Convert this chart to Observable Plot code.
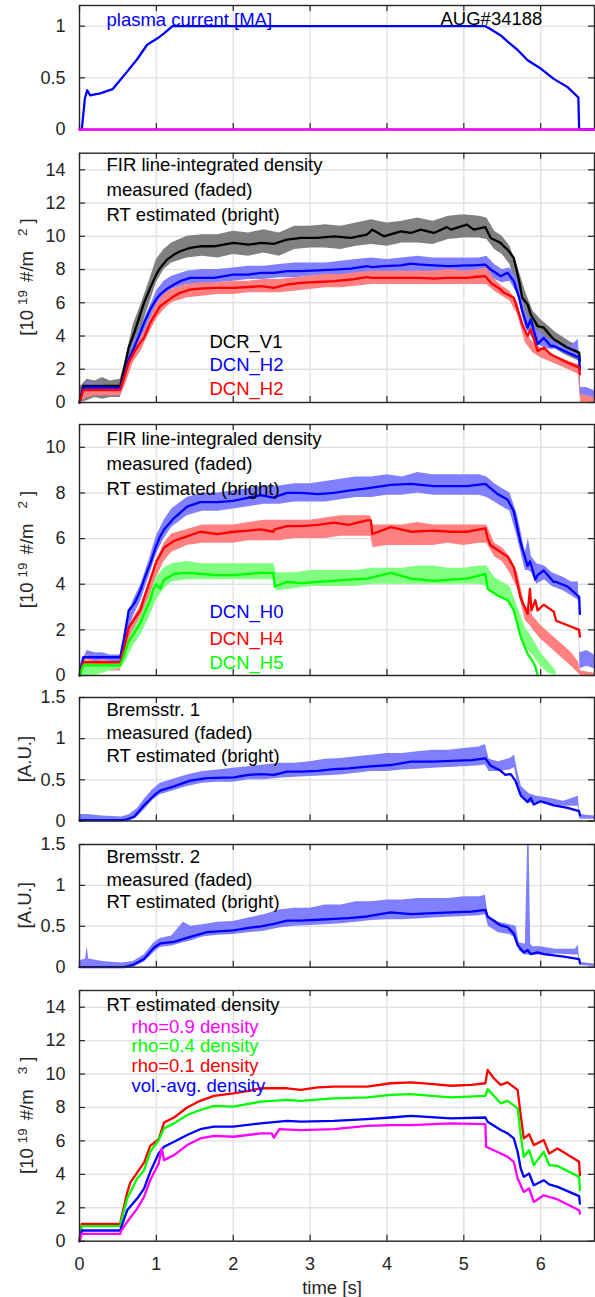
<!DOCTYPE html>
<html><head><meta charset="utf-8">
<script src="https://cdn.jsdelivr.net/npm/d3@7"></script>
<script src="https://cdn.jsdelivr.net/npm/@observablehq/plot@0.6"></script>
<style>
body{margin:0;background:#fff;}
#chart{position:relative;width:595px;height:1297px;overflow:hidden;}
#chart svg{position:absolute;left:0;}
</style></head><body><div id="chart"></div>
<script>
// ---------------- DATA ----------------
const xTicks = [0, 1, 2, 3, 4, 5, 6];
const ticksIp = [0, 0.5, 1];
const ticksFir1 = [0, 2, 4, 6, 8, 10, 12, 14];
const ticksFir2 = [0, 2, 4, 6, 8, 10];
const ticksBrems = [0, 0.5, 1, 1.5];
const ticksDens = [0, 2, 4, 6, 8, 10, 12, 14];

// panel 1: plasma current [t, MA]
const plasmaCurrent = [[0,0],[0.03,0],[0.07,0.3],[0.1,0.38],[0.14,0.33],[0.2,0.34],[0.27,0.35],[0.43,0.39],[0.62,0.56],[0.75,0.68],[0.88,0.82],[1.01,0.88],[1.1,0.93],[1.21,1.0],[1.5,1.0],[2.0,1.0],[2.5,1.0],[3.0,1.0],[3.5,1.0],[4.0,1.0],[4.5,1.0],[5.0,1.0],[5.28,1.0],[5.35,0.97],[5.48,0.91],[5.57,0.85],[5.7,0.77],[5.83,0.67],[6.0,0.59],[6.17,0.49],[6.35,0.41],[6.49,0.31],[6.5,0],[6.7,0]];
const plasmaRef = [[0,0],[6.7,0]];

// panel 2: FIR line-integrated density, RT estimated [t, value]
const rtDCR_V1 = [[0,0],[0.05,1.0],[0.53,1.0],[0.58,2.0],[0.64,3.3],[0.72,4.3],[0.79,5.3],[0.84,6.0],[0.92,6.9],[1.01,7.8],[1.05,8.1],[1.14,8.6],[1.23,8.9],[1.31,9.1],[1.44,9.3],[1.57,9.4],[1.75,9.4],[2.0,9.6],[2.2,9.5],[2.36,9.6],[2.53,9.55],[2.7,9.8],[2.88,9.9],[3.1,9.9],[3.31,10.0],[3.53,9.9],[3.74,10.1],[3.81,10.4],[3.96,10.0],[4.18,10.3],[4.31,10.2],[4.44,10.4],[4.61,10.2],[4.78,10.55],[4.83,10.4],[5.04,10.7],[5.13,10.4],[5.28,10.55],[5.35,9.9],[5.48,9.6],[5.52,9.4],[5.57,9.2],[5.65,8.7],[5.72,7.3],[5.76,6.3],[5.83,5.9],[5.87,5.3],[5.96,4.6],[6.04,4.5],[6.13,4.0],[6.17,3.8],[6.35,3.3],[6.5,3.0],[6.51,2.5]];
const rtDCN_H2b = [[0,0],[0.05,0.9],[0.53,0.9],[0.58,1.6],[0.64,2.6],[0.72,3.4],[0.79,4.2],[0.84,4.8],[0.92,5.6],[1.01,6.3],[1.05,6.5],[1.14,6.85],[1.23,7.1],[1.31,7.3],[1.44,7.5],[1.57,7.5],[1.75,7.5],[2.0,7.7],[2.2,7.7],[2.36,7.8],[2.53,7.8],[2.7,7.9],[2.88,7.9],[3.1,7.95],[3.31,8.0],[3.53,8.05],[3.74,8.2],[3.81,8.15],[3.96,8.2],[4.18,8.25],[4.31,8.35],[4.44,8.3],[4.61,8.25],[4.78,8.2],[4.83,8.2],[5.04,8.25],[5.13,8.25],[5.28,8.3],[5.35,8.0],[5.48,7.6],[5.52,7.7],[5.57,7.8],[5.65,7.3],[5.72,6.3],[5.76,5.5],[5.83,4.5],[5.87,5.0],[5.96,3.5],[6.04,3.9],[6.13,3.4],[6.17,3.4],[6.35,3.0],[6.5,2.7],[6.51,2.0]];
const rtDCN_H2r = [[0,0],[0.05,0.75],[0.53,0.75],[0.58,1.5],[0.64,2.4],[0.72,3.1],[0.79,3.6],[0.84,3.9],[0.92,4.8],[1.01,5.5],[1.05,5.8],[1.14,6.1],[1.23,6.4],[1.31,6.6],[1.44,6.8],[1.57,6.85],[1.75,6.9],[2.0,6.9],[2.2,6.95],[2.36,7.0],[2.53,6.9],[2.7,7.1],[2.88,7.2],[3.1,7.25],[3.31,7.3],[3.53,7.4],[3.74,7.55],[3.81,7.5],[3.96,7.5],[4.18,7.5],[4.31,7.5],[4.44,7.5],[4.61,7.45],[4.78,7.5],[4.83,7.5],[5.04,7.5],[5.13,7.55],[5.28,7.6],[5.35,7.2],[5.48,6.8],[5.52,6.6],[5.57,6.5],[5.65,6.3],[5.72,5.3],[5.76,4.7],[5.83,4.0],[5.87,4.4],[5.96,3.1],[6.04,3.3],[6.13,2.9],[6.17,2.8],[6.35,2.4],[6.5,2.1],[6.51,1.7]];
// measured (faded) envelopes [t, low, high]
const msDCR_V1 = [[0,0,0.9],[0.1,0.1,1.4],[0.2,0.3,1.3],[0.3,0.2,1.5],[0.4,0.3,1.3],[0.53,0.3,1.4],[0.6,1.2,2.6],[0.7,3.2,4.7],[0.8,4.4,5.9],[0.9,5.8,7.2],[1.0,7.2,8.6],[1.1,8.0,9.2],[1.2,8.4,9.6],[1.4,8.7,10.0],[1.6,8.8,10.1],[1.8,8.7,10.1],[2.0,8.9,10.3],[2.2,8.8,10.2],[2.4,9.0,10.4],[2.6,8.8,10.2],[2.8,9.2,10.6],[3.0,9.3,10.6],[3.2,9.3,10.7],[3.4,9.2,10.6],[3.6,9.4,10.8],[3.8,9.5,11.0],[4.0,9.4,10.8],[4.2,9.6,10.9],[4.4,9.6,11.1],[4.6,9.5,10.9],[4.8,9.8,11.2],[5.0,9.9,11.3],[5.2,9.9,11.2],[5.3,9.8,11.1],[5.4,9.2,10.3],[5.5,8.9,10.0],[5.6,8.3,9.4],[5.7,6.6,8.2],[5.8,4.6,6.7],[5.9,4.3,5.5],[6.0,3.9,5.0],[6.1,3.5,4.6],[6.2,3.2,4.2],[6.3,2.9,3.9],[6.4,2.7,3.6],[6.49,2.5,3.5],[6.52,0,0.8],[6.6,0.1,0.8],[6.7,0.1,0.6]];
const msDCN_H2b = [[0,0,0.5],[0.1,0.5,1.2],[0.2,0.6,1.1],[0.3,0.6,1.1],[0.4,0.6,1.0],[0.53,0.6,1.0],[0.6,1.3,2.0],[0.7,2.8,3.6],[0.8,3.7,4.5],[0.9,4.8,5.6],[1.0,5.8,6.7],[1.1,6.4,7.3],[1.2,6.8,7.6],[1.4,7.1,7.9],[1.6,7.1,8.0],[1.8,7.2,8.0],[2.0,7.3,8.1],[2.2,7.4,8.2],[2.4,7.4,8.2],[2.6,7.5,8.3],[2.8,7.5,8.4],[3.0,7.6,8.4],[3.2,7.6,8.4],[3.4,7.7,8.5],[3.6,7.7,8.6],[3.8,7.8,8.7],[4.0,7.8,8.6],[4.2,7.8,8.7],[4.4,7.9,8.8],[4.6,7.8,8.7],[4.8,7.8,8.7],[5.0,7.8,8.7],[5.2,7.8,8.7],[5.3,7.8,8.8],[5.4,7.4,8.3],[5.5,7.2,8.0],[5.6,7.3,8.1],[5.7,6.5,7.4],[5.8,4.5,5.5],[5.9,3.8,4.6],[6.0,3.4,4.2],[6.1,3.2,3.8],[6.2,3.2,3.7],[6.3,3.0,3.5],[6.4,2.8,3.4],[6.49,2.6,3.8],[6.52,0.2,0.9],[6.6,0.3,0.9],[6.7,0.3,0.7]];
const msDCN_H2r = [[0,0,0.4],[0.1,0.3,1.0],[0.2,0.4,0.9],[0.3,0.4,0.9],[0.4,0.4,0.9],[0.53,0.4,0.9],[0.6,1.1,1.8],[0.7,2.4,3.2],[0.8,3.1,3.9],[0.9,4.1,4.8],[1.0,5.0,5.9],[1.1,5.6,6.5],[1.2,6.0,6.8],[1.4,6.3,7.1],[1.6,6.4,7.2],[1.8,6.5,7.2],[2.0,6.5,7.3],[2.2,6.6,7.3],[2.4,6.6,7.4],[2.6,6.6,7.4],[2.8,6.7,7.5],[3.0,6.8,7.6],[3.2,6.9,7.7],[3.4,6.9,7.7],[3.6,7.0,7.8],[3.8,7.1,7.9],[4.0,7.1,7.9],[4.2,7.1,7.9],[4.4,7.1,7.9],[4.6,7.1,7.9],[4.8,7.1,8.0],[5.0,7.1,7.9],[5.2,7.1,8.0],[5.3,7.1,8.1],[5.4,6.7,7.4],[5.5,6.4,7.0],[5.6,6.1,6.7],[5.7,5.3,6.0],[5.8,3.6,4.3],[5.9,3.0,3.6],[6.0,2.7,3.3],[6.1,2.5,3.0],[6.2,2.3,2.8],[6.3,2.1,2.6],[6.4,1.9,2.4],[6.49,1.7,2.3],[6.52,0,0.5],[6.6,0,0.4],[6.7,0,0.3]];

// panel 3: FIR line-integrated density (H0, H4, H5)
const rtDCN_H0 = [[0,0],[0.05,0.8],[0.53,0.8],[0.58,1.6],[0.64,2.85],[0.72,3.2],[0.79,3.7],[0.84,4.2],[0.92,4.9],[0.96,5.3],[1.0,5.7],[1.05,6.1],[1.1,6.4],[1.23,6.9],[1.4,7.4],[1.57,7.6],[1.79,7.6],[2.0,7.65],[2.2,7.8],[2.36,7.9],[2.52,7.8],[2.7,8.0],[2.88,8.0],[3.1,7.95],[3.31,8.0],[3.5,8.1],[3.74,8.2],[4.05,8.35],[4.31,8.4],[4.61,8.3],[4.83,8.3],[5.04,8.3],[5.28,8.4],[5.35,8.2],[5.44,7.95],[5.57,7.7],[5.65,7.2],[5.74,5.8],[5.83,4.8],[5.86,5.0],[5.88,4.8],[5.93,4.2],[5.96,4.4],[6.04,4.6],[6.17,4.1],[6.2,4.1],[6.35,3.9],[6.5,3.45],[6.51,2.7]];
const rtDCN_H4 = [[0,0],[0.05,0.58],[0.53,0.58],[0.58,1.2],[0.64,2.1],[0.72,2.5],[0.79,2.85],[0.84,3.4],[0.92,4.2],[0.96,4.6],[1.0,5.0],[1.05,5.3],[1.1,5.6],[1.23,5.9],[1.4,6.1],[1.57,6.3],[1.79,6.2],[2.0,6.3],[2.2,6.35],[2.36,6.4],[2.52,6.3],[2.54,6.4],[2.7,6.55],[2.88,6.55],[3.1,6.6],[3.31,6.7],[3.5,6.6],[3.74,6.8],[3.79,6.8],[3.81,6.2],[4.05,6.5],[4.31,6.3],[4.61,6.35],[4.83,6.3],[5.04,6.3],[5.28,6.45],[5.31,6.0],[5.35,5.7],[5.44,5.5],[5.57,5.2],[5.65,4.75],[5.74,3.4],[5.83,2.7],[5.86,3.8],[5.88,2.85],[5.93,3.3],[5.96,2.85],[6.04,3.1],[6.17,2.8],[6.2,2.4],[6.35,2.2],[6.5,2.0],[6.51,1.7]];
const rtDCN_H5 = [[0,0],[0.05,0.44],[0.53,0.44],[0.58,0.9],[0.64,1.5],[0.72,1.9],[0.79,2.3],[0.84,2.7],[0.92,3.3],[0.96,3.8],[1.0,4.0],[1.05,3.8],[1.1,4.2],[1.23,4.45],[1.4,4.5],[1.57,4.45],[1.79,4.4],[2.0,4.4],[2.2,4.45],[2.36,4.5],[2.52,4.5],[2.54,3.9],[2.7,4.1],[2.88,4.05],[3.1,4.1],[3.31,4.15],[3.5,4.2],[3.74,4.25],[4.05,4.5],[4.31,4.25],[4.61,4.15],[4.83,4.2],[5.04,4.25],[5.28,4.45],[5.31,3.8],[5.35,3.7],[5.44,3.5],[5.57,3.3],[5.65,2.85],[5.74,1.7],[5.83,0.95],[5.86,0.8],[5.88,0.7],[5.93,0.4],[5.96,0]];
const msDCN_H0 = [[0,0.1,0.4],[0.1,0.4,1.1],[0.2,0.5,1.0],[0.3,0.5,1.0],[0.4,0.5,0.9],[0.53,0.5,0.9],[0.6,1.5,2.2],[0.7,2.6,3.3],[0.8,3.3,4.0],[0.9,4.3,5.0],[1.0,5.3,6.1],[1.1,6.0,6.8],[1.2,6.5,7.3],[1.4,7.0,7.8],[1.6,7.2,8.0],[1.8,7.2,8.0],[2.0,7.3,8.1],[2.2,7.4,8.2],[2.4,7.5,8.3],[2.6,7.5,8.3],[2.8,7.6,8.4],[3.0,7.6,8.4],[3.2,7.6,8.5],[3.4,7.7,8.6],[3.6,7.8,8.7],[3.8,7.8,8.7],[4.0,7.9,8.8],[4.2,7.9,8.7],[4.4,8.0,8.9],[4.6,7.9,8.8],[4.8,7.9,8.8],[5.0,7.9,8.8],[5.2,7.9,8.8],[5.3,7.8,8.7],[5.4,7.6,8.4],[5.5,7.4,8.2],[5.6,7.2,8.0],[5.7,6.0,7.0],[5.8,4.6,5.4],[5.84,4.6,6.0],[5.88,4.5,5.2],[5.95,4.0,4.9],[6.05,4.2,4.8],[6.15,3.9,4.5],[6.3,3.7,4.3],[6.4,3.5,4.1],[6.49,3.3,4.1],[6.51,0.3,1.0],[6.6,0.4,1.1],[6.7,0.3,0.9]];
const msDCN_H4 = [[0,0,0.3],[0.1,0.1,0.9],[0.2,0.1,0.6],[0.3,0.2,0.7],[0.4,0.2,0.6],[0.53,0.2,0.6],[0.6,0.9,1.6],[0.7,1.8,2.5],[0.8,2.4,3.1],[0.9,3.3,4.0],[1.0,4.3,5.0],[1.1,5.0,5.8],[1.2,5.4,6.2],[1.4,5.7,6.4],[1.6,5.8,6.6],[1.8,5.8,6.6],[2.0,5.8,6.6],[2.2,5.9,6.7],[2.4,5.9,6.8],[2.6,5.9,6.8],[2.8,6.0,6.8],[3.0,6.0,6.8],[3.2,6.0,6.9],[3.4,6.1,7.0],[3.6,6.1,7.0],[3.79,6.1,7.0],[3.82,5.6,6.6],[4.0,5.7,6.6],[4.2,5.7,6.6],[4.4,5.7,6.7],[4.6,5.7,6.6],[4.8,5.8,6.6],[5.0,5.7,6.6],[5.2,5.8,6.6],[5.3,5.8,6.6],[5.4,5.2,5.8],[5.5,5.0,5.6],[5.6,4.5,5.2],[5.7,3.8,4.5],[5.8,2.4,3.0],[5.86,2.2,2.9],[5.9,2.0,2.6],[6.0,1.6,2.2],[6.1,1.3,1.9],[6.2,1.0,1.6],[6.3,0.7,1.3],[6.4,0.4,1.0],[6.49,0.1,0.6],[6.52,0,0.2],[6.7,0,0.1]];
const msDCN_H5 = [[0,0,0.2],[0.1,0,0.7],[0.2,0,0.5],[0.3,0.1,0.5],[0.4,0.2,0.5],[0.53,0.3,0.5],[0.6,0.6,1.2],[0.7,1.3,2.0],[0.8,1.8,2.6],[0.9,2.5,3.4],[1.0,3.3,4.3],[1.1,3.8,4.7],[1.2,4.1,4.9],[1.4,4.2,5.0],[1.6,4.2,4.9],[1.8,4.2,4.9],[2.0,4.2,4.9],[2.2,4.2,4.9],[2.4,4.2,4.9],[2.53,4.2,4.9],[2.56,3.7,4.5],[2.8,3.8,4.5],[3.0,3.9,4.6],[3.2,3.9,4.6],[3.4,3.9,4.6],[3.6,3.9,4.6],[3.8,4.0,4.7],[4.0,4.0,4.7],[4.2,4.0,4.7],[4.4,4.0,4.8],[4.6,4.0,4.8],[4.8,4.0,4.7],[5.0,4.0,4.7],[5.2,4.0,4.8],[5.3,3.9,4.8],[5.4,3.6,4.3],[5.5,3.4,4.1],[5.6,3.2,3.9],[5.7,2.3,3.0],[5.8,1.3,2.1],[5.86,1.0,1.8],[5.9,0.9,1.6],[6.0,0.4,1.0],[6.1,0.1,0.6],[6.2,0,0.2]];

// panel 4: Bremsstrahlung 1
const rtBrems1 = [[0,0.01],[0.55,0.01],[0.62,0.02],[0.71,0.05],[0.84,0.19],[0.97,0.31],[1.05,0.37],[1.23,0.42],[1.44,0.49],[1.66,0.52],[2.01,0.53],[2.2,0.56],[2.36,0.57],[2.53,0.56],[2.7,0.6],[2.88,0.6],[3.1,0.61],[3.31,0.63],[3.5,0.64],[3.74,0.66],[4.05,0.68],[4.31,0.72],[4.6,0.72],[4.83,0.73],[5.1,0.74],[5.28,0.76],[5.35,0.67],[5.48,0.61],[5.54,0.56],[5.61,0.57],[5.67,0.49],[5.74,0.31],[5.83,0.23],[5.87,0.28],[5.91,0.2],[6.0,0.24],[6.17,0.19],[6.35,0.16],[6.5,0.12],[6.51,0.07]];
const msBrems1 = [[0,0,0.08],[0.1,0,0.08],[0.3,0,0.06],[0.55,0,0.05],[0.65,0,0.08],[0.75,0.05,0.15],[0.85,0.14,0.27],[0.95,0.25,0.38],[1.05,0.32,0.46],[1.2,0.36,0.5],[1.4,0.42,0.56],[1.6,0.46,0.6],[1.8,0.47,0.62],[2.0,0.47,0.64],[2.2,0.5,0.66],[2.4,0.5,0.68],[2.6,0.52,0.7],[2.8,0.53,0.7],[3.0,0.54,0.72],[3.2,0.55,0.75],[3.4,0.56,0.76],[3.6,0.58,0.78],[3.8,0.6,0.8],[4.0,0.6,0.82],[4.2,0.62,0.82],[4.4,0.63,0.84],[4.6,0.64,0.86],[4.8,0.65,0.86],[5.0,0.66,0.88],[5.2,0.67,0.9],[5.28,0.68,0.93],[5.33,0.6,0.75],[5.45,0.6,0.72],[5.6,0.62,0.76],[5.66,0.65,0.8],[5.7,0.45,0.6],[5.75,0.3,0.42],[5.85,0.22,0.33],[5.95,0.22,0.3],[6.1,0.2,0.28],[6.3,0.18,0.24],[6.49,0.18,0.3],[6.51,0.02,0.08],[6.7,0.02,0.06]];

// panel 5: Bremsstrahlung 2
const rtBrems2 = [[0,0],[0.58,0],[0.7,0.03],[0.84,0.1],[0.97,0.24],[1.05,0.29],[1.23,0.31],[1.44,0.37],[1.66,0.43],[2.0,0.45],[2.2,0.48],[2.36,0.5],[2.53,0.53],[2.7,0.57],[2.88,0.57],[3.1,0.58],[3.31,0.59],[3.5,0.6],[3.74,0.62],[4.05,0.67],[4.31,0.65],[4.6,0.66],[4.83,0.67],[5.1,0.68],[5.28,0.7],[5.31,0.62],[5.48,0.51],[5.57,0.49],[5.65,0.41],[5.7,0.27],[5.78,0.18],[5.83,0.21],[5.87,0.16],[5.96,0.18],[6.04,0.16],[6.3,0.13],[6.5,0.1],[6.51,0.05]];
const msBrems2 = [[0,0,0.08],[0.08,0,0.1],[0.1,0,0.25],[0.12,0,0.1],[0.3,0,0.07],[0.55,0,0.05],[0.7,0,0.07],[0.84,0.06,0.15],[0.97,0.18,0.3],[1.05,0.24,0.35],[1.2,0.26,0.38],[1.35,0.3,0.55],[1.45,0.32,0.5],[1.6,0.37,0.52],[1.8,0.39,0.55],[2.0,0.4,0.56],[2.2,0.42,0.6],[2.4,0.44,0.64],[2.6,0.48,0.7],[2.8,0.5,0.72],[3.0,0.51,0.72],[3.2,0.52,0.76],[3.4,0.53,0.76],[3.6,0.55,0.8],[3.8,0.57,0.8],[4.0,0.58,0.82],[4.2,0.58,0.82],[4.4,0.59,0.84],[4.6,0.6,0.84],[4.8,0.61,0.84],[5.0,0.62,0.86],[5.2,0.63,0.86],[5.28,0.64,0.88],[5.32,0.5,0.62],[5.45,0.42,0.55],[5.6,0.4,0.52],[5.68,0.35,0.5],[5.72,0.2,0.3],[5.8,0.15,0.28],[5.83,0.15,1.5],[5.85,0.15,1.5],[5.87,0.15,0.28],[5.9,0.15,0.25],[6.0,0.15,0.25],[6.2,0.16,0.22],[6.45,0.15,0.22],[6.49,0.15,0.27],[6.51,0.02,0.06],[6.7,0.01,0.04]];

// panel 6: RT estimated density
const rho01 = [[0,0],[0.03,1.04],[0.53,1.04],[0.54,1.3],[0.62,2.9],[0.66,3.5],[0.75,4.1],[0.84,4.7],[0.92,5.7],[1.03,6.1],[1.1,7.1],[1.23,7.4],[1.4,8.0],[1.57,8.4],[1.75,8.7],[2.0,8.85],[2.2,9.0],[2.36,9.15],[2.7,9.15],[2.88,9.05],[3.1,9.2],[3.31,9.25],[3.74,9.25],[4.05,9.45],[4.31,9.5],[4.6,9.4],[4.83,9.3],[5.1,9.35],[5.28,9.45],[5.31,10.25],[5.39,9.75],[5.48,9.35],[5.57,9.5],[5.7,9.05],[5.74,7.55],[5.78,6.15],[5.85,6.4],[5.91,5.75],[6.04,6.05],[6.11,5.25],[6.22,5.55],[6.5,4.75],[6.51,3.95]];
const rho04 = [[0,0],[0.03,0.9],[0.53,0.9],[0.54,1.15],[0.62,2.55],[0.75,3.75],[0.84,4.25],[0.92,5.35],[1.03,6.05],[1.1,6.75],[1.23,7.05],[1.4,7.55],[1.57,7.85],[1.75,8.1],[2.0,8.05],[2.36,8.35],[2.7,8.45],[2.88,8.4],[3.31,8.55],[3.74,8.6],[4.05,8.75],[4.31,8.8],[4.83,8.6],[5.28,8.7],[5.31,9.1],[5.39,8.7],[5.48,8.25],[5.57,8.4],[5.7,7.95],[5.74,6.35],[5.78,5.05],[5.85,5.45],[5.91,4.55],[6.04,5.35],[6.11,4.55],[6.22,4.5],[6.5,3.85],[6.51,3.05]];
const volAvg = [[0,0],[0.03,0.64],[0.53,0.64],[0.54,0.8],[0.62,1.85],[0.75,2.55],[0.84,3.15],[0.92,4.15],[1.03,5.25],[1.1,5.65],[1.23,5.95],[1.4,6.35],[1.57,6.7],[1.75,6.85],[2.0,6.85],[2.36,7.05],[2.7,7.2],[2.88,7.15],[3.31,7.2],[3.74,7.3],[4.05,7.4],[4.31,7.5],[4.83,7.35],[5.28,7.4],[5.31,7.15],[5.48,6.65],[5.57,6.45],[5.65,6.15],[5.7,5.35],[5.74,4.35],[5.78,3.85],[5.85,4.05],[5.91,3.35],[6.04,3.65],[6.11,3.4],[6.22,3.25],[6.5,2.7],[6.51,2.25]];
const rho09 = [[0,0],[0.03,0.44],[0.53,0.44],[0.54,0.6],[0.62,1.15],[0.75,1.95],[0.84,2.65],[0.92,3.65],[1.03,4.65],[1.07,5.55],[1.1,4.85],[1.23,5.15],[1.4,5.75],[1.57,6.15],[1.75,6.3],[2.0,6.25],[2.36,6.45],[2.5,6.45],[2.53,6.2],[2.6,6.7],[2.88,6.65],[3.31,6.7],[3.74,6.9],[4.05,6.95],[4.31,6.95],[4.83,7.05],[5.28,7.0],[5.29,5.65],[5.48,5.25],[5.57,5.05],[5.65,4.75],[5.7,3.75],[5.78,2.95],[5.85,3.15],[5.91,2.35],[6.04,2.75],[6.22,2.5],[6.5,1.85],[6.51,1.65]];

// texts
const titleIp = "plasma current [MA]";
const shotLabel = "AUG#34188";
const firTitle1 = ["FIR line-integrated density", "measured (faded)", "RT estimated (bright)"];
const firNames1 = ["DCR_V1", "DCN_H2", "DCN_H2"];
const firTitle2 = ["FIR line-integraled density", "measured (faded)", "RT estimated (bright)"];
const firNames2 = ["DCN_H0", "DCN_H4", "DCN_H5"];
const bremsTitle1 = ["Bremsstr. 1", "measured (faded)", "RT estimated (bright)"];
const bremsTitle2 = ["Bremsstr. 2", "measured (faded)", "RT estimated (bright)"];
const densTitle = "RT estimated density";
const densNames = ["rho=0.9 density", "rho=0.4 density", "rho=0.1 density", "vol.-avg. density"];
const yLabLine2 = [{t: "[10"}, {t: "19", sup: true}, {t: "#/m"}, {t: "2", sup: true}, {t: "]"}];
const yLabLine3 = [{t: "[10"}, {t: "19", sup: true}, {t: "#/m"}, {t: "3", sup: true}, {t: "]"}];
const yLabAU = [{t: "[A.U.]"}];
const xLabel = "time [s]";

// ---------------- DRAWING ----------------
const W = 595, ML = 79, MR = 1;
const FONT = "'Liberation Sans', Arial, Helvetica, sans-serif";
const INK = "#262626";
const GRID = "#e1e1e1";
const FS = 18.5;
const LW = 2.3;
const chart = document.getElementById("chart");

const band = (data, fill) => Plot.areaY(data, {x: d => d[0], y1: d => d[1], y2: d => d[2], fill, fillOpacity: 1});
const line = (data, stroke, w = LW) => Plot.line(data, {x: d => d[0], y: d => d[1], stroke, strokeWidth: w});
const note = (s, dx, dy, fill = "#000") => Plot.text([s], {text: d => d, frameAnchor: "top-left", textAnchor: "start", lineAnchor: "middle", dx, dy, fill, fontSize: FS});

function yLabel(svg, x, y, parts) {
  const gaps = [0, 5, 8, 15, 5];
  const t = d3.select(svg).append("text")
    .attr("transform", `translate(${x},${y}) rotate(-90)`)
    .attr("text-anchor", "middle").attr("fill", INK)
    .attr("font-family", FONT).attr("font-size", FS);
  let up = false;
  parts.forEach((p, i) => {
    const sup = p.sup === true;
    const dy = sup && !up ? -6 : (!sup && up ? 6 : 0);
    up = sup;
    t.append("tspan").attr("dx", i ? gaps[i] : 0).attr("dy", dy)
      .attr("font-size", sup ? 13.5 : FS).text(p.t);
  });
}

function panel({svgTop, svgBottom, frameTop, frameBottom, yDomain, yTicks, marks, over = [], xLabels = false, ylab}) {
  const height = svgBottom - svgTop;
  const fh = frameBottom - frameTop, fw = W - ML - MR, tk = 6;
  const tickStyle = {stroke: INK, strokeWidth: 1.2};
  const all = [
    Plot.gridX(xTicks.slice(1), {stroke: GRID, strokeOpacity: 1, strokeWidth: 1.4}),
    Plot.gridY(yTicks, {stroke: GRID, strokeOpacity: 1, strokeWidth: 1.4}),
    ...marks,
    Plot.ruleX(xTicks, {x: d => d, insetTop: fh - tk, ...tickStyle}),
    Plot.ruleX(xTicks, {x: d => d, insetBottom: fh - tk, ...tickStyle}),
    Plot.ruleY(yTicks, {y: d => d, insetRight: fw - tk, ...tickStyle}),
    Plot.ruleY(yTicks, {y: d => d, insetLeft: fw - tk, ...tickStyle}),
    Plot.axisY(yTicks, {tickSize: 0, tickPadding: 14, tickFormat: d => String(d), label: null, fontSize: 18, fill: INK}),
    xLabels ? Plot.axisX(xTicks, {tickSize: 0, tickPadding: 16, tickFormat: d => String(d), label: null, fontSize: 18, fill: INK}) : null,
    xLabels ? Plot.text([xLabel], {text: d => d, frameAnchor: "bottom", lineAnchor: "middle", dy: 47, dx: -5, fill: INK, fontSize: FS}) : null,
    Plot.frame({stroke: INK, strokeWidth: 1.4}),
    ...over
  ].filter(Boolean);
  const svg = Plot.plot({
    width: W, height,
    marginLeft: ML, marginRight: MR,
    marginTop: frameTop - svgTop, marginBottom: svgBottom - frameBottom,
    x: {domain: [0, 6.7], axis: xLabels ? undefined : null},
    y: {domain: yDomain},
    style: {fontFamily: FONT, fontSize: "18px", color: INK, background: "white"},
    marks: all
  });
  svg.style.top = svgTop + "px";
  if (ylab) yLabel(svg, ylab.x, ylab.y - svgTop, ylab.parts);
  chart.appendChild(svg);
}

// Panel 1: plasma current
panel({svgTop: 0, svgBottom: 141, frameTop: 5, frameBottom: 129, yDomain: [0, 1.2], yTicks: ticksIp,
  marks: [line(plasmaCurrent, "#0000ff"), note(titleIp, 27, 14.5, "#0000ff"), note(shotLabel, 361, 13.3, "#000")],
  over: [line(plasmaRef, "#ff00ff", 2.6)]});

// Panel 2: FIR 1
panel({svgTop: 141, svgBottom: 413, frameTop: 152.7, frameBottom: 402, yDomain: [0, 15], yTicks: ticksFir1,
  marks: [
    band(msDCR_V1, "#808080"), band(msDCN_H2b, "#8080ff"), band(msDCN_H2r, "#ff8080"),
    line(rtDCR_V1, "#000000"), line(rtDCN_H2b, "#0000ff"), line(rtDCN_H2r, "#ff0000"),
    note(firTitle1[0], 27, 12.3), note(firTitle1[1], 27, 37.3), note(firTitle1[2], 27, 62.3),
    note(firNames1[0], 130, 189, "#000"), note(firNames1[1], 130, 212.3, "#0000ff"), note(firNames1[2], 130, 235.6, "#ff0000")
  ],
  ylab: {x: 33, y: 277, parts: yLabLine2}});

// Panel 3: FIR 2
panel({svgTop: 413, svgBottom: 686, frameTop: 424, frameBottom: 675, yDomain: [0, 11], yTicks: ticksFir2,
  marks: [
    band(msDCN_H0, "#8080ff"), band(msDCN_H4, "#ff8080"), band(msDCN_H5, "#80ff80"),
    line(rtDCN_H0, "#0000ff"), line(rtDCN_H4, "#ff0000"), line(rtDCN_H5, "#00ff00"),
    note(firTitle2[0], 27, 14.3), note(firTitle2[1], 27, 39.3), note(firTitle2[2], 27, 64.3),
    note(firNames2[0], 130, 187.7, "#0000ff"), note(firNames2[1], 130, 214.3, "#ff0000"), note(firNames2[2], 130, 238.7, "#00ff00")
  ],
  ylab: {x: 33, y: 549.5, parts: yLabLine2}});

// Panel 4: Bremsstrahlung 1
panel({svgTop: 686, svgBottom: 832, frameTop: 697, frameBottom: 820.5, yDomain: [0, 1.5], yTicks: ticksBrems,
  marks: [
    band(msBrems1, "#8080ff"), line(rtBrems1, "#0000ff"),
    note(bremsTitle1[0], 27, 13), note(bremsTitle1[1], 27, 36), note(bremsTitle1[2], 27, 58.5)
  ],
  ylab: {x: 31, y: 759, parts: yLabAU}});

// Panel 5: Bremsstrahlung 2
panel({svgTop: 832, svgBottom: 978, frameTop: 844, frameBottom: 966.7, yDomain: [0, 1.5], yTicks: ticksBrems,
  marks: [
    band(msBrems2, "#8080ff"), line(rtBrems2, "#0000ff"),
    note(bremsTitle2[0], 27, 12.7), note(bremsTitle2[1], 27, 35.3), note(bremsTitle2[2], 27, 57.7)
  ],
  ylab: {x: 31, y: 905.3, parts: yLabAU}});

// Panel 6: RT estimated density
panel({svgTop: 978, svgBottom: 1297, frameTop: 990, frameBottom: 1240.7, yDomain: [0, 15], yTicks: ticksDens, xLabels: true,
  marks: [
    line(rho01, "#ff0000"), line(rho04, "#00ff00"), line(volAvg, "#0000ff"), line(rho09, "#ff00ff"),
    note(densTitle, 27, 14.3),
    note(densNames[0], 52, 36.7, "#ff00ff"), note(densNames[1], 52, 56, "#00ff00"),
    note(densNames[2], 52, 75.7, "#ff0000"), note(densNames[3], 52, 95.7, "#0000ff")
  ],
  ylab: {x: 33, y: 1115.3, parts: yLabLine3}});
</script>
</body></html>
